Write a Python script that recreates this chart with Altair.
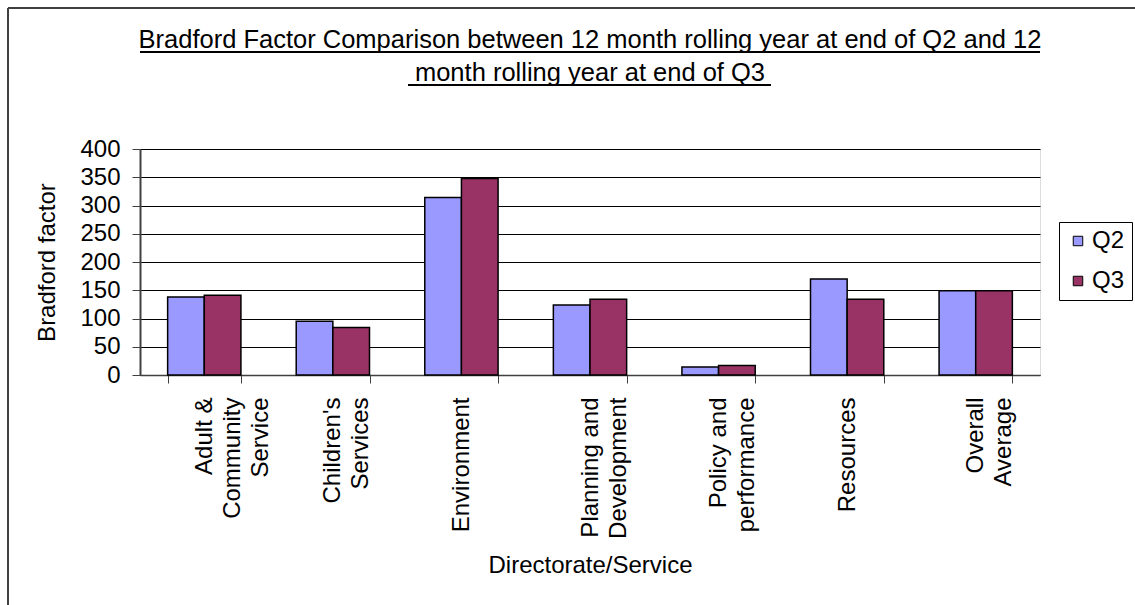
import altair as alt
import pandas as pd

categories = [
    "Adult &\nCommunity\nService",
    "Children's\nServices",
    "Environment",
    "Planning and\nDevelopment",
    "Policy and\nperformance",
    "Resources",
    "Overall\nAverage",
]
q2_values = [138, 95, 314, 124, 14, 170, 149]
q3_values = [141, 84, 348, 134, 17, 134, 149]
series = ["Q2", "Q3"]
colors = ["#9999FF", "#993366"]
y_ticks = [0, 50, 100, 150, 200, 250, 300, 350, 400]
title_lines = [
    "Bradford Factor Comparison between 12 month rolling year at end of Q2 and 12",
    "month rolling year at end of Q3",
]

rows = []
for c, a, b in zip(categories, q2_values, q3_values):
    rows.append({"cat": c, "series": "Q2", "value": a})
    rows.append({"cat": c, "series": "Q3", "value": b})
df = pd.DataFrame(rows)
one = pd.DataFrame({"k": [0]})

FONT = "Liberation Sans"
FS = 24

bars = alt.Chart(df).mark_bar(stroke="black", strokeWidth=1.5).encode(
    x=alt.X(
        "cat:N",
        sort=categories,
        scale=alt.Scale(paddingInner=0.43, paddingOuter=0.215),
        axis=alt.Axis(
            title="Directorate/Service",
            labelAngle=270,
            labelAlign="right",
            labelBaseline="middle",
            labelExpr="split(datum.label, '\\n')",
            labelLineHeight=28,
            labelPadding=14,
            labelLimit=400,
            labelFontSize=FS,
            labelFont=FONT,
            labelColor="black",
            titleFontSize=FS,
            titleFont=FONT,
            titleFontWeight="normal",
            titleColor="black",
            titlePadding=15,
            tickBand="extent",
            tickSize=8,
            tickColor="#404040",
            domainColor="#404040",
            domainWidth=1.5,
            grid=False,
        ),
    ),
    xOffset=alt.XOffset("series:N", sort=series),
    y=alt.Y(
        "value:Q",
        scale=alt.Scale(domain=[0, 400], nice=False),
        axis=alt.Axis(
            title="Bradford factor",
            values=y_ticks,
            labelFontSize=FS,
            labelFont=FONT,
            labelColor="black",
            labelPadding=12,
            titleFontSize=FS,
            titleFont=FONT,
            titleFontWeight="normal",
            titleColor="black",
            titlePadding=20,
            tickSize=8,
            tickColor="#404040",
            domainColor="#404040",
            domainWidth=2,
            gridColor="black",
            gridWidth=1.2,
        ),
    ),
    color=alt.Color(
        "series:N",
        sort=series,
        scale=alt.Scale(domain=series, range=colors),
        legend=alt.Legend(
            title=None,
            orient="none",
            legendX=919,
            legendY=73,
            symbolType="square",
            symbolSize=90,
            symbolStrokeColor="black",
            symbolStrokeWidth=1,
            labelFontSize=FS,
            labelFont=FONT,
            labelColor="black",
            strokeColor="black",
            fillColor="white",
            padding=7,
            rowPadding=16,
            labelOffset=2,
        ),
    ),
)

title_text = alt.Chart(one).mark_text(
    font=FONT, fontSize=25.5, color="black", align="center",
    baseline="alphabetic", lineHeight=33,
).encode(x=alt.value(450), y=alt.value(-101), text=alt.value(title_lines))

# decorative underlines under the title and chart-area border
underline1 = alt.Chart(one).mark_rule(color="black", strokeWidth=2).encode(
    x=alt.value(0), x2=alt.value(900), y=alt.value(-97)
)
underline2 = alt.Chart(one).mark_rule(color="black", strokeWidth=2).encode(
    x=alt.value(268), x2=alt.value(631), y=alt.value(-64)
)
border_left = alt.Chart(one).mark_rule(color="#404040", strokeWidth=2).encode(
    x=alt.value(-132), y=alt.value(-141), y2=alt.value(460)
)
border_top = alt.Chart(one).mark_rule(color="#404040", strokeWidth=2).encode(
    x=alt.value(-132), x2=alt.value(1000), y=alt.value(-141)
)

chart = alt.layer(
    bars, title_text, underline1, underline2, border_left, border_top
).properties(
    width=900,
    height=226,
    padding={"left": 140, "top": 149, "right": 95, "bottom": 230},
    autosize=alt.AutoSizeParams(type="none"),
).configure_view(
    fill="#C0C0C0", stroke="#808080", strokeWidth=1.5
).configure(background="white")

chart.save("out.html", embed_options={"renderer": "svg", "actions": False})
